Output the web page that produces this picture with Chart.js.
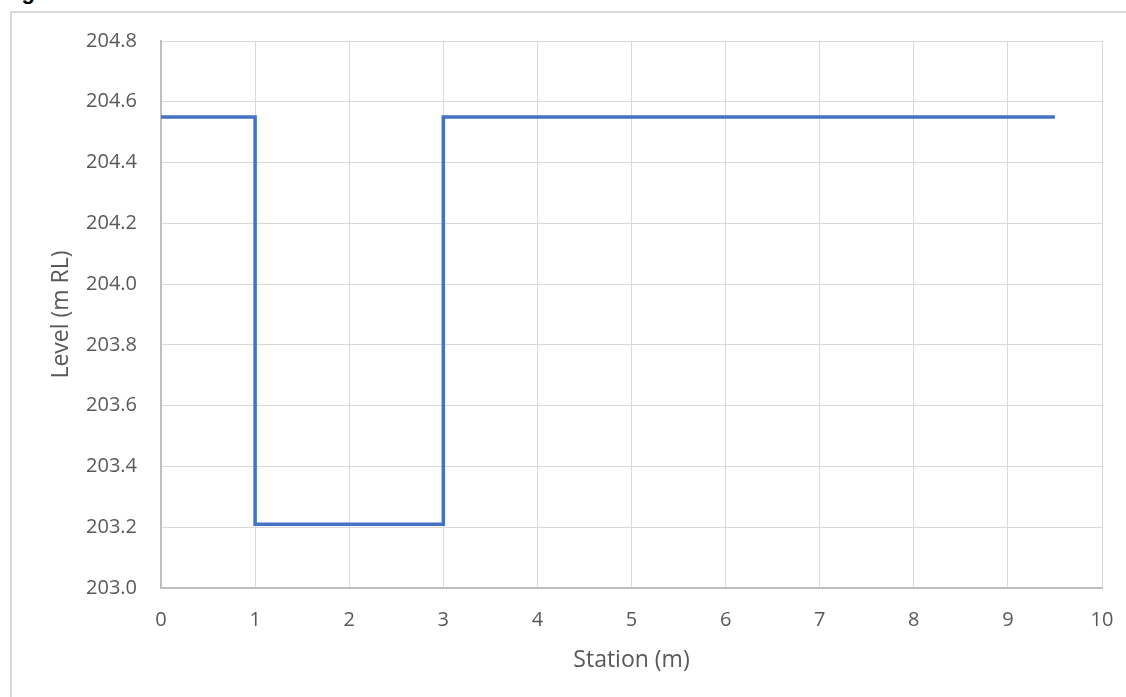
<!DOCTYPE html>
<html>
<head>
<meta charset="utf-8">
<script src="https://cdn.jsdelivr.net/npm/chart.js@4"></script>
<style>
  html, body { margin: 0; padding: 0; background: #fff; overflow: hidden; }
  #frame { position: absolute; left: 10px; top: 11px; width: 1130px; height: 700px;
           border-left: 2px solid #d9d9d9; border-top: 2px solid #d9d9d9; }
  #caption { position: absolute; left: 2px; top: -21px; font: bold 22px "Liberation Sans", Arial, sans-serif;
             color: #000; white-space: nowrap; }
  #wrap { position: absolute; left: 0; top: 0; width: 1126px; height: 697px; }
</style>
</head>
<body>
<div id="frame"></div>
<div id="caption">Figure 4.1    Base Condition Flow Section</div>
<div id="wrap"><canvas id="chart" width="1126" height="697"></canvas></div>
<script>
const stationX = [0, 1, 1, 3, 3, 9.5];
const levelY = [204.55, 204.55, 203.21, 203.21, 204.55, 204.55];
const xTicks = [0, 1, 2, 3, 4, 5, 6, 7, 8, 9, 10];
const yTicks = [203.0, 203.2, 203.4, 203.6, 203.8, 204.0, 204.2, 204.4, 204.6, 204.8];

const textColor = '#595959';
const gridColor = '#d9d9d9';
const tickFont = { family: '"Open Sans", sans-serif', size: 20 };
const titleFont = { family: '"Open Sans", sans-serif', size: 23 };

const points = stationX.map((x, i) => ({ x, y: levelY[i] }));

new Chart(document.getElementById('chart'), {
    type: 'line',
    data: {
        datasets: [{
            data: points,
            borderColor: '#4472C4',
            borderWidth: 3.5,
            pointRadius: 0,
            tension: 0,
            fill: false,
        }],
    },
    options: {
        responsive: false,
        animation: false,
        layout: { padding: { top: 41, right: 24, left: 0, bottom: 0 } },
        plugins: { legend: { display: false }, tooltip: { enabled: false } },
        scales: {
            x: {
                type: 'linear',
                min: xTicks[0],
                max: xTicks[xTicks.length - 1],
                afterBuildTicks: (scale) => { scale.ticks = xTicks.map((v) => ({ value: v })); },
                afterFit: (scale) => {
                    scale.height = 109;
                    scale.paddingLeft = 0;
                    scale.paddingRight = 0;
                },
                ticks: { color: textColor, font: tickFont, padding: 20, maxRotation: 0 },
                grid: { color: gridColor, drawTicks: false },
                border: { color: '#bfbfbf', width: 2 },
                title: {
                    display: true,
                    text: 'Station (m)',
                    color: textColor,
                    font: titleFont,
                    padding: { top: 0, bottom: 23 },
                },
            },
            y: {
                min: yTicks[0],
                max: yTicks[yTicks.length - 1],
                afterBuildTicks: (scale) => { scale.ticks = yTicks.map((v) => ({ value: v })); },
                afterFit: (scale) => { scale.width = 161; },
                ticks: {
                    color: textColor,
                    font: tickFont,
                    padding: 24,
                    callback: (v) => Number(v).toFixed(1),
                },
                grid: { color: gridColor, drawTicks: false },
                border: { color: '#bfbfbf', width: 2 },
                title: {
                    display: true,
                    text: 'Level (m RL)',
                    color: textColor,
                    font: titleFont,
                    padding: { top: 48 },
                },
            },
        },
    },
});
</script>
</body>
</html>
